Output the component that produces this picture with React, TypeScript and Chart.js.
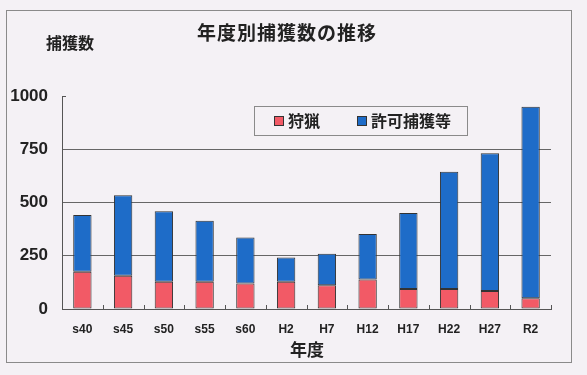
import React, { useEffect, useRef } from "react";
import { Chart, registerables } from "chart.js";

Chart.register(...registerables);

const categories = ["s40", "s45", "s50", "s55", "s60", "H2", "H7", "H12", "H17", "H22", "H27", "R2"];
const huntingValues = [175, 156, 128, 128, 120, 128, 112, 139, 94, 94, 84, 50];
const permittedValues = [266, 378, 331, 286, 216, 114, 147, 213, 357, 550, 647, 900];
const yTicks = [0, 250, 500, 750, 1000];
const seriesNames = ["狩猟", "許可捕獲等"];
const chartTitle = "年度別捕獲数の推移";
const yAxisTitle = "捕獲数";
const xAxisTitle = "年度";

const RED = "#F25A66";
const BLUE = "#1E6CC8";
const BG = "#F4F1F5";
const JP = "'Noto Sans CJK JP', 'Noto Sans', sans-serif";
const NUM = "'Liberation Sans', Arial, 'Noto Sans CJK JP', sans-serif";

const decorPlugin = {
  id: "decor",
  beforeDraw(chart: any) {
    const ctx = chart.ctx;
    ctx.save();
    ctx.fillStyle = BG;
    ctx.fillRect(0, 0, chart.width, chart.height);
    ctx.restore();
  },
  afterDraw(chart: any) {
    const ctx = chart.ctx;
    const area = chart.chartArea;
    const xs = chart.scales.x;
    ctx.save();
    // outer frame
    ctx.strokeStyle = "#8a8a8a";
    ctx.lineWidth = 1;
    ctx.strokeRect(6.5, 10.5, 565, 352);
    // titles
    ctx.fillStyle = "#222";
    ctx.textAlign = "center";
    ctx.textBaseline = "middle";
    ctx.font = `bold 19px ${JP}`;
    try { (ctx as any).letterSpacing = "1px"; } catch (e) {}
    ctx.fillText(chartTitle, 287, 33);
    try { (ctx as any).letterSpacing = "0px"; } catch (e) {}
    ctx.font = `bold 16px ${JP}`;
    ctx.fillText(yAxisTitle, 70, 43);
    ctx.font = `bold 17px ${JP}`;
    ctx.fillText(xAxisTitle, 307, 350);
    // small inner ticks on x axis between categories
    ctx.strokeStyle = "#555";
    ctx.beginPath();
    const n = categories.length;
    for (let i = 1; i < n; i++) {
      const x = Math.round((xs.getPixelForTick(i - 1) + xs.getPixelForTick(i)) / 2) + 0.5;
      ctx.moveTo(x, area.bottom);
      ctx.lineTo(x, area.bottom - 4);
    }
    const xr = Math.round(area.right) + 0.5;
    ctx.moveTo(xr, area.bottom);
    ctx.lineTo(xr, area.bottom - 4);
    // top corner tick on y axis
    const yt = Math.round(chart.scales.y.getPixelForValue(1000)) + 0.5;
    ctx.moveTo(area.left, yt);
    ctx.lineTo(area.left + 4, yt);
    ctx.stroke();
    // legend box
    ctx.strokeStyle = "#8a8a8a";
    ctx.strokeRect(254.5, 106.5, 213, 29);
    const colors = [RED, BLUE];
    const sqX = [274, 357];
    ctx.font = `bold 16px ${JP}`;
    ctx.textAlign = "left";
    ctx.textBaseline = "middle";
    seriesNames.forEach((name, i) => {
      ctx.fillStyle = colors[i];
      ctx.fillRect(sqX[i], 116, 10, 10);
      ctx.strokeStyle = "#333";
      ctx.strokeRect(sqX[i] + 0.5, 116.5, 9, 9);
      ctx.fillStyle = "#222";
      ctx.fillText(name, sqX[i] + 14, 121);
    });
    ctx.restore();
  },
};

export default function App() {
  const canvasRef = useRef<HTMLCanvasElement | null>(null);

  useEffect(() => {
    if (!canvasRef.current) return;
    const chart = new Chart(canvasRef.current, {
      type: "bar",
      data: {
        labels: categories,
        datasets: [
          {
            label: seriesNames[0],
            data: huntingValues,
            backgroundColor: RED,
            borderColor: "#333",
            borderWidth: 1,
            borderSkipped: false,
            barPercentage: 0.45,
            categoryPercentage: 1,
          },
          {
            label: seriesNames[1],
            data: permittedValues,
            backgroundColor: BLUE,
            borderColor: "#333",
            borderWidth: 1,
            borderSkipped: false,
            barPercentage: 0.45,
            categoryPercentage: 1,
          },
        ],
      },
      options: {
        animation: false,
        responsive: false,
        devicePixelRatio: 1,
        layout: { padding: { left: 0, right: 36, top: 96, bottom: 0 } },
        plugins: {
          legend: { display: false },
          title: { display: false },
          tooltip: { enabled: false },
        },
        scales: {
          x: {
            stacked: true,
            grid: { display: true, drawOnChartArea: false, drawTicks: false },
            border: { display: true, color: "#555", width: 1 },
            ticks: {
              padding: 13,
              color: "#222",
              font: { family: NUM, size: 12, weight: "bold" },
            },
            afterFit: (s: any) => {
              s.height = 66;
            },
          },
          y: {
            stacked: true,
            min: 0,
            max: 1000,
            afterBuildTicks: (s: any) => {
              s.ticks = yTicks.map((v) => ({ value: v }));
            },
            grid: {
              drawTicks: false,
              color: (c: any) => (c.tick && c.tick.value === 1000 ? "rgba(0,0,0,0)" : "#666"),
              lineWidth: 1,
            },
            border: { display: true, color: "#555", width: 1 },
            ticks: {
              padding: 14,
              color: "#222",
              font: { family: NUM, size: 17, weight: "bold" },
              callback: (v: any) => String(v),
            },
            afterFit: (s: any) => {
              s.width = 62;
            },
          },
        },
      },
      plugins: [decorPlugin],
    });
    return () => chart.destroy();
  }, []);

  return (
    <div style={{ position: "fixed", left: 0, top: 0, width: 587, height: 375, background: BG }}>
      <canvas ref={canvasRef} width={587} height={375} style={{ display: "block" }} />
    </div>
  );
}
